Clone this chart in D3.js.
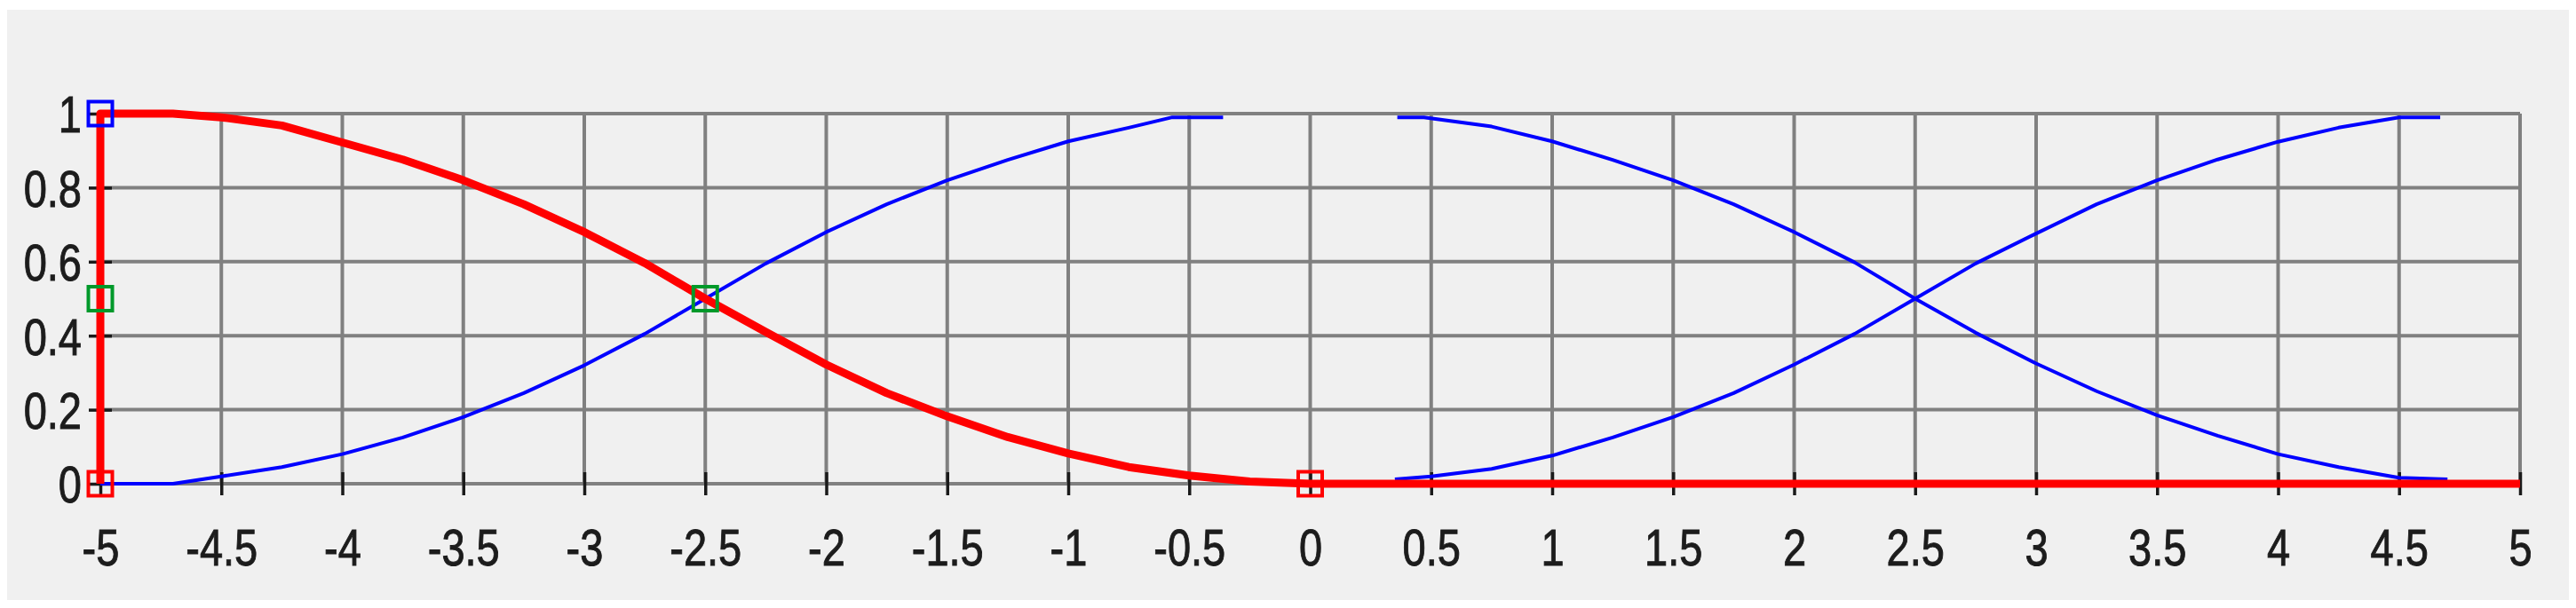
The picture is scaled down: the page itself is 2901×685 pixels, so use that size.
<!DOCTYPE html>
<html>
<head>
<meta charset="utf-8">
<script src="https://cdn.jsdelivr.net/npm/d3@7"></script>
<style>
  html, body { margin: 0; padding: 0; background: #fff; }
  svg { display: block; }
</style>
</head>
<body>
<div id="chart"></div>
<script>
// tick values
const xTicks = [-5, -4.5, -4, -3.5, -3, -2.5, -2, -1.5, -1, -0.5, 0, 0.5, 1, 1.5, 2, 2.5, 3, 3.5, 4, 4.5, 5];
const yTicks = [0, 0.2, 0.4, 0.6, 0.8, 1];

// red curve (incl. vertical edge at -5)
const redCurve = [[-5, 0], [-5, 1], [-4.7, 1], [-4.5, 0.99], [-4.25, 0.968], [-4, 0.922], [-3.75, 0.876],
  [-3.5, 0.82], [-3.25, 0.755], [-3, 0.68], [-2.75, 0.596], [-2.5, 0.5], [-2.25, 0.41], [-2, 0.322],
  [-1.75, 0.245], [-1.5, 0.182], [-1.25, 0.126], [-1, 0.082], [-0.75, 0.045], [-0.5, 0.022],
  [-0.25, 0.006], [0, 0], [5, 0]];

// blue curves
const blueRise1 = [[-5, 0], [-4.7, 0], [-4.5, 0.02], [-4.25, 0.045], [-4, 0.08], [-3.75, 0.125],
  [-3.5, 0.18], [-3.25, 0.245], [-3, 0.32], [-2.75, 0.405], [-2.5, 0.5], [-2.25, 0.595], [-2, 0.68],
  [-1.75, 0.755], [-1.5, 0.82], [-1.25, 0.875], [-1, 0.925], [-0.75, 0.962], [-0.57, 0.99], [-0.36, 0.99]];
const blueFall = [[0.36, 0.99], [0.47, 0.99], [0.75, 0.965], [1, 0.925], [1.25, 0.875], [1.5, 0.82],
  [1.75, 0.755], [2, 0.68], [2.25, 0.598], [2.5, 0.5], [2.75, 0.408], [3, 0.325], [3.25, 0.25],
  [3.5, 0.185], [3.75, 0.13], [4, 0.08], [4.25, 0.045], [4.5, 0.016], [4.7, 0.012]];
const blueRise2 = [[0.35, 0.012], [0.5, 0.02], [0.75, 0.04], [1, 0.076], [1.25, 0.125], [1.5, 0.18],
  [1.75, 0.245], [2, 0.322], [2.25, 0.405], [2.5, 0.5], [2.75, 0.595], [3, 0.676], [3.25, 0.755],
  [3.5, 0.82], [3.75, 0.876], [4, 0.924], [4.25, 0.962], [4.5, 0.99], [4.67, 0.99]];

// square markers
const blueMarkers = [[-5, 1]];
const greenMarkers = [[-5, 0.5], [-2.5, 0.5]];
const redMarkers = [[-5, 0], [0, 0]];

const W = 2901, H = 685;
const margin = { top: 128, right: 63, bottom: 140, left: 113 },
    width = W - margin.left - margin.right,
    height = H - margin.top - margin.bottom;

const svg = d3.select('#chart').append('svg')
    .attr('width', W)
    .attr('height', H);

svg.append('rect')
    .attr('x', 8).attr('y', 11)
    .attr('width', 2885).attr('height', 665)
    .attr('fill', '#f0f0f0');

const g = svg.append('g')
    .attr('transform', `translate(${margin.left},${margin.top})`);

const x = d3.scaleLinear().domain([-5, 5]).range([0, width]);
const y = d3.scaleLinear().domain([0, 1]).range([height, 0]);

// grid
g.append('g').selectAll('line')
    .data(xTicks)
    .join('line')
    .attr('x1', d => x(d)).attr('x2', d => x(d))
    .attr('y1', 0).attr('y2', height)
    .attr('stroke', '#808080')
    .attr('stroke-width', 4);
g.append('g').selectAll('line')
    .data(yTicks)
    .join('line')
    .attr('x1', 0).attr('x2', width)
    .attr('y1', d => y(d)).attr('y2', d => y(d))
    .attr('stroke', '#808080')
    .attr('stroke-width', 4);

// axes: ticks straddle the axis line
const fmt = d => d3.format('~g')(d).replace('−', '-');
const xAxis = g.append('g')
    .attr('transform', `translate(0,${height - 13})`)
    .call(d3.axisBottom(x)
        .tickValues(xTicks)
        .tickFormat(fmt)
        .tickSize(26));
const yAxis = g.append('g')
    .attr('transform', `translate(13,0)`)
    .call(d3.axisLeft(y)
        .tickValues(yTicks)
        .tickFormat(fmt)
        .tickSize(26)
        .tickPadding(8));

[xAxis, yAxis].forEach(a => {
    a.select('.domain').remove();
    a.selectAll('.tick line').attr('stroke', '#1a1a1a').attr('stroke-width', 3.5);
    a.selectAll('.tick text')
        .attr('fill', '#1c1c1c')
        .attr('stroke', '#1c1c1c')
        .attr('stroke-width', 0.8)
        .attr('y', 0)
        .attr('dy', '0.36em')
        .style('font-family', '"Liberation Sans", Arial, sans-serif')
        .style('font-size', '47px');
});
// labels are stretched vertically in the original
xAxis.selectAll('.tick text').attr('transform', 'translate(0,84) scale(1,1.24)');
yAxis.selectAll('.tick text').attr('transform', 'scale(1,1.24)');

const lineGenerator = d3.line()
    .x(d => x(d[0]))
    .y(d => y(d[1]));

[blueRise1, blueFall, blueRise2].forEach(series => {
    g.append('path')
        .attr('fill', 'none')
        .attr('d', lineGenerator(series))
        .attr('stroke', '#0000ff')
        .attr('stroke-width', 4)
        .attr('stroke-linejoin', 'round');
});

g.append('path')
    .attr('fill', 'none')
    .attr('d', lineGenerator(redCurve))
    .attr('stroke', '#ff0000')
    .attr('stroke-width', 9)
    .attr('stroke-linejoin', 'round');

const markerSize = 27;
const drawMarkers = (pts, color) => {
    g.append('g').selectAll('rect')
        .data(pts)
        .join('rect')
        .attr('x', d => x(d[0]) - markerSize / 2)
        .attr('y', d => y(d[1]) - markerSize / 2)
        .attr('width', markerSize)
        .attr('height', markerSize)
        .attr('fill', 'none')
        .attr('stroke', color)
        .attr('stroke-width', 4);
};
drawMarkers(blueMarkers, '#0000ff');
drawMarkers(greenMarkers, '#00992a');
drawMarkers(redMarkers, '#ff0000');
</script>
</body>
</html>
